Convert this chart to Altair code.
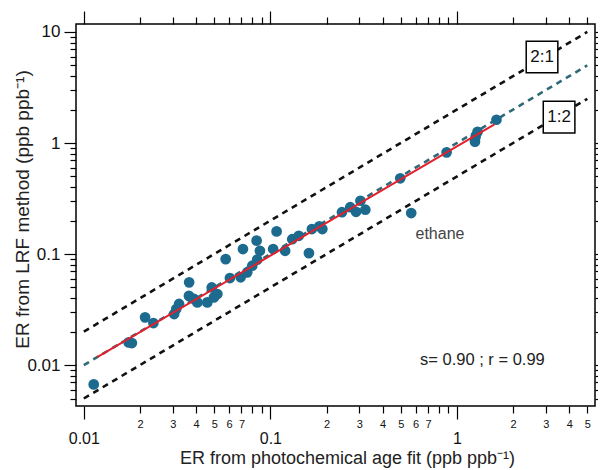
import altair as alt
import pandas as pd

# ---- data ----
x_vals = [0.0113, 0.0174, 0.0181, 0.0213, 0.0236, 0.0305, 0.0313, 0.0324,
          0.0367, 0.0366, 0.0390, 0.0406, 0.0459, 0.0485, 0.0498, 0.0520,
          0.0576, 0.0607, 0.0693, 0.0713, 0.0752, 0.0800, 0.0844, 0.0850,
          0.0879, 0.1035, 0.108, 0.120, 0.131, 0.142, 0.161, 0.167,
          0.183, 0.190, 0.242, 0.268, 0.288, 0.304, 0.323, 0.497,
          0.569, 0.881, 1.25, 1.26, 1.29, 1.63]
y_vals = [0.0067, 0.0160, 0.0158, 0.0269, 0.0239, 0.0288, 0.0320, 0.0355,
          0.0556, 0.0420, 0.0394, 0.0367, 0.0367, 0.0500, 0.0407, 0.0436,
          0.0900, 0.0608, 0.0617, 0.111, 0.0684, 0.0785, 0.132, 0.0890,
          0.107, 0.111, 0.160, 0.107, 0.136, 0.146, 0.102, 0.168,
          0.178, 0.168, 0.238, 0.264, 0.240, 0.302, 0.251, 0.481,
          0.234, 0.824, 1.03, 1.14, 1.26, 1.62]

fit_x = [0.0118, 1.59]
fit_y = [0.0118, 1.47]

ref_x = [0.01, 5.0]
ratio_names = ["1:1", "2:1", "1:2"]
ratio_factors = [1.0, 2.0, 0.5]

box_text = ["2:1", "1:2"]
box_x = [2.86, 3.53]
box_y = [5.96, 1.71]

ethane_text = ["ethane"]
ethane_x = [0.60]
ethane_y = [0.151]

stats_text = ["s= 0.90 ; r = 0.99"]
stats_x = [1.37]
stats_y = [0.0112]

x_major = [0.01, 0.1, 1]
x_minor = [0.02, 0.03, 0.04, 0.05, 0.06, 0.07, 0.08, 0.09,
           0.2, 0.3, 0.4, 0.5, 0.6, 0.7, 0.8, 0.9, 2, 3, 4, 5]
y_major = [0.01, 0.1, 1, 10]
y_minor = [0.005, 0.006, 0.007, 0.008, 0.009,
           0.02, 0.03, 0.04, 0.05, 0.06, 0.07, 0.08, 0.09,
           0.2, 0.3, 0.4, 0.5, 0.6, 0.7, 0.8, 0.9,
           2, 3, 4, 5, 6, 7, 8, 9]

x_domain = [0.00908, 5.5]
y_domain = [0.00428, 11.8]

x_title = "ER from photochemical age fit  (ppb ppb\u207b\u00b9)"
y_title = "ER from LRF method (ppb ppb\u207b\u00b9)"

FONT = "Liberation Sans"

# ---- tables ----
pts = pd.DataFrame({"x": x_vals, "y": y_vals})
fit = pd.DataFrame({"x": fit_x, "y": fit_y})
ref_rows = []
for name, f in zip(ratio_names, ratio_factors):
    for xv in ref_x:
        ref_rows.append({"name": name, "x": xv, "y": xv * f})
ref = pd.DataFrame(ref_rows)
boxes = pd.DataFrame({"t": box_text, "x": box_x, "y": box_y})
eth = pd.DataFrame({"t": ethane_text, "x": ethane_x, "y": ethane_y})
stats = pd.DataFrame({"t": stats_text, "x": stats_x, "y": stats_y})

xs = alt.Scale(type="log", domain=x_domain, nice=False)
ys = alt.Scale(type="log", domain=y_domain, nice=False)


def X(axis=None):
    return alt.X("x:Q", scale=xs, axis=axis)


def Y(axis=None):
    return alt.Y("y:Q", scale=ys, axis=axis)


tick_common = dict(domain=False, grid=False, tickColor="black", tickWidth=1.2,
                   labelOverlap=False, labelFlush=False, labelFont=FONT,
                   labelColor="#111111")

minor_expr = ("(datum.value >= 1 || round(datum.value/pow(10,floor(log(datum.value)/LN10+0.000001))) <= 7)"
              " ? '' + round(datum.value/pow(10,floor(log(datum.value)/LN10+0.000001))) : ''")

ax_bottom_major = alt.Axis(orient="bottom", values=x_major, format="~g", tickSize=13,
                           labelFontSize=16, labelPadding=11,
                           title=x_title, titleFont=FONT, titleFontSize=18,
                           titleFontWeight="normal", titleColor="#222222",
                           titleX=271, titleY=57, titleAlign="center",
                           titleBaseline="alphabetic", **tick_common)
ax_bottom_minor = alt.Axis(orient="bottom", values=x_minor, tickSize=7,
                           labelExpr=minor_expr, labelFontSize=11, labelPadding=5,
                           title=None, **tick_common)
ax_top_major = alt.Axis(orient="top", values=x_major, tickSize=13, labels=False,
                        title=None, **tick_common)
ax_top_minor = alt.Axis(orient="top", values=x_minor, tickSize=7, labels=False,
                        title=None, **tick_common)

ax_left_major = alt.Axis(orient="left", values=y_major, format="~g", tickSize=12,
                         labelFontSize=17, labelPadding=4,
                         title=y_title, titleFont=FONT, titleFontSize=19,
                         titleFontWeight="normal", titleColor="#222222",
                         titleAngle=270, titleX=-48, titleY=185, titleAlign="center",
                         titleBaseline="alphabetic", **tick_common)
ax_left_minor = alt.Axis(orient="left", values=y_minor, tickSize=6, labels=False,
                         title=None, **tick_common)
ax_right_major = alt.Axis(orient="right", values=y_major, tickSize=12, labels=False,
                          title=None, **tick_common)
ax_right_minor = alt.Axis(orient="right", values=y_minor, tickSize=6, labels=False,
                          title=None, **tick_common)


def axis_layer(xa, ya):
    return alt.Chart(pts).mark_point(opacity=0).encode(x=X(xa), y=Y(ya))


axes_layers = [
    axis_layer(ax_bottom_major, ax_left_major),
    axis_layer(ax_bottom_minor, ax_left_minor),
    axis_layer(ax_top_major, ax_right_major),
    axis_layer(ax_top_minor, ax_right_minor),
]

ref_lines = alt.Chart(ref).mark_line(strokeWidth=2.6, strokeDash=[6, 5]).encode(
    x=X(), y=Y(), detail="name:N",
    color=alt.Color("name:N", scale=alt.Scale(domain=ratio_names,
                                              range=["#2f6a78", "#111111", "#111111"]),
                    legend=None),
)

points = alt.Chart(pts).mark_circle(size=115, opacity=1, color="#1c6a8e").encode(
    x=X(), y=Y())

fit_line = alt.Chart(fit).mark_line(color="#e3202c", strokeWidth=2).encode(x=X(), y=Y())

box_marks = alt.Chart(boxes).mark_point(shape="square", size=1000, fill="white",
                                        fillOpacity=1, stroke="black", strokeWidth=1.5,
                                        opacity=1).encode(x=X(), y=Y())
box_text_marks = alt.Chart(boxes).mark_text(font=FONT, fontSize=17, color="#111111",
                                            align="center", baseline="middle").encode(
    x=X(), y=Y(), text="t:N")

eth_marks = alt.Chart(eth).mark_text(font=FONT, fontSize=16, color="#444444",
                                     align="left", baseline="middle").encode(
    x=X(), y=Y(), text="t:N")

stats_marks = alt.Chart(stats).mark_text(font=FONT, fontSize=16.5, color="#222222",
                                         align="center", baseline="middle").encode(
    x=X(), y=Y(), text="t:N")

chart = alt.layer(
    *axes_layers, ref_lines, points, fit_line, box_marks, box_text_marks,
    eth_marks, stats_marks
).resolve_axis(x="independent", y="independent").properties(
    width=519, height=382,
    autosize=alt.AutoSizeParams(type="none"),
    padding={"left": 68, "top": 16, "right": 3, "bottom": 64},
).configure_view(stroke="black", strokeWidth=1.5)

chart.save("out.html", embed_options={"renderer": "svg", "actions": False})
